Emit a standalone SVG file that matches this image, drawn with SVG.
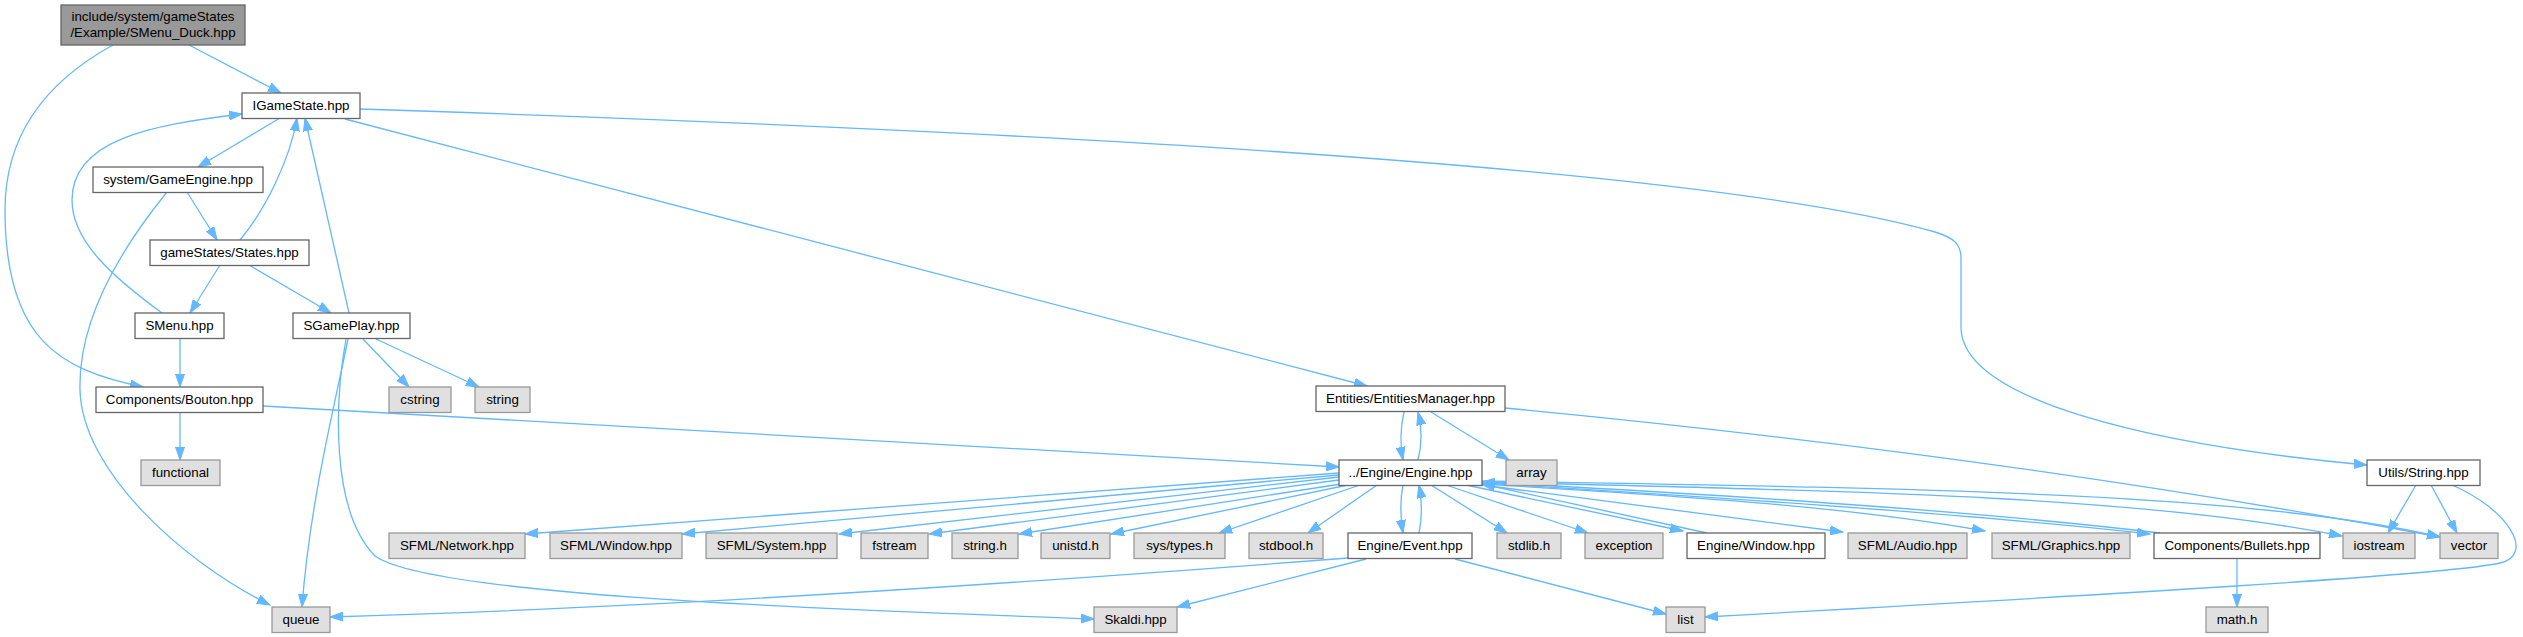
<svg xmlns="http://www.w3.org/2000/svg" width="2523" height="637" viewBox="0 0 2523 637">
<style>
.w{fill:#ffffff;stroke:#666666;stroke-width:1.3}
.g{fill:#e0e0e0;stroke:#999999;stroke-width:1.3}
.r{fill:#999999;stroke:#666666;stroke-width:1.3}
text{font-family:"Liberation Sans",Arial,Helvetica,sans-serif;font-size:13.33px;text-anchor:middle;fill:#000000}
#edges path{fill:none;stroke:#63b8ff;stroke-width:1.3;marker-end:url(#a)}
</style>
<defs>
<marker id="a" markerUnits="userSpaceOnUse" markerWidth="14" markerHeight="10" refX="13" refY="5" orient="auto">
<path d="M0,0.5 L13,5 L0,9.5 z" fill="#63b8ff" stroke="#63b8ff" stroke-width="1"/>
</marker>
</defs>
<rect width="2523" height="637" fill="#ffffff"/>
<g id="edges">
<path d="M189,45 L281,93"/>
<path d="M113,45 C40,85 5,140 5,210 C5,340 60,370 143,387"/>
<path d="M280,118 L198,167"/>
<path d="M345,119 L1367,386"/>
<path d="M360,109 C1000,130 1700,165 1935,232 C1955,238 1961,245 1961,258 L1961,327 C1961,400 2150,445 2367,465"/>
<path d="M187,192 L217,240"/>
<path d="M167,192 C120,250 78,320 80,390 C82,470 180,560 270,605"/>
<path d="M240,240 C265,210 290,160 297,118"/>
<path d="M220,265 L190,313"/>
<path d="M249,265 L331,313"/>
<path d="M162,313 C110,275 72,240 72,200 C72,140 150,125 242,114"/>
<path d="M180,339 L180,387"/>
<path d="M349,313 L305,118"/>
<path d="M363,339 L409,387"/>
<path d="M376,339 L479,387"/>
<path d="M348,339 C336,400 310,500 302,607"/>
<path d="M346,339 C335,400 330,510 375,556 C430,595 800,608 1094,619"/>
<path d="M180,412 L180,460"/>
<path d="M263,406 L1339,467"/>
<path d="M1404,412 C1400,430 1400,445 1403,460"/>
<path d="M1418,460 C1422,445 1422,428 1418,412"/>
<path d="M1431,412 L1509,460"/>
<path d="M1505,408 Q2000,455 2440,537"/>
<path d="M1339,473 L525,534"/>
<path d="M1339,475 L682,534"/>
<path d="M1339,477 L839,534"/>
<path d="M1339,480 L929,534"/>
<path d="M1341,484 L1019,534"/>
<path d="M1348,485 L1111,534"/>
<path d="M1360,485 L1219,533"/>
<path d="M1377,485 L1308,533"/>
<path d="M1403,485 C1400,500 1400,515 1403,533"/>
<path d="M1419,533 C1422,518 1422,500 1419,485"/>
<path d="M1431,485 L1507,533"/>
<path d="M1446,485 L1588,533"/>
<path d="M1466,485 L1683,531"/>
<path d="M1707,533 L1482,484"/>
<path d="M1482,485 L1843,532"/>
<path d="M1482,484 C1700,497 1850,507 1985,531"/>
<path d="M1482,483 C1800,502 2000,517 2150,534"/>
<path d="M2160,533 C2000,514 1800,499 1482,482"/>
<path d="M1482,482 C1900,492 2150,498 2342,536"/>
<path d="M1482,481 C1900,488 2250,492 2440,537"/>
<path d="M1348,558 C1000,585 650,608 330,617"/>
<path d="M1366,559 L1177,607"/>
<path d="M1455,559 L1666,614"/>
<path d="M2416,485 L2388,533"/>
<path d="M2431,485 L2457,533"/>
<path d="M2452,485 C2510,510 2535,555 2500,563 C2450,575 2100,595 1705,617"/>
<path d="M2237,559 L2237,607"/>
</g>
<g id="n_root"><rect class="r" x="61" y="5" width="184" height="40"/><text x="153" y="21">include/system/gameStates</text><text x="153" y="37">/Example/SMenu_Duck.hpp</text></g>
<g id="n_igamestate"><rect class="w" x="242" y="93" width="118" height="25.5"/><text x="301" y="110">IGameState.hpp</text></g>
<g id="n_gameengine"><rect class="w" x="93" y="167" width="170" height="25.5"/><text x="178" y="184">system/GameEngine.hpp</text></g>
<g id="n_states"><rect class="w" x="150" y="240" width="159" height="25.5"/><text x="229.5" y="257">gameStates/States.hpp</text></g>
<g id="n_smenu"><rect class="w" x="135" y="313" width="89" height="25.5"/><text x="179.5" y="330">SMenu.hpp</text></g>
<g id="n_sgameplay"><rect class="w" x="293" y="313" width="117" height="25.5"/><text x="351.5" y="330">SGamePlay.hpp</text></g>
<g id="n_bouton"><rect class="w" x="96" y="387" width="167" height="25.5"/><text x="179.5" y="404">Components/Bouton.hpp</text></g>
<g id="n_cstring"><rect class="g" x="389" y="387" width="62" height="25.5"/><text x="420" y="404">cstring</text></g>
<g id="n_string"><rect class="g" x="475" y="387" width="55" height="25.5"/><text x="502.5" y="404">string</text></g>
<g id="n_em"><rect class="w" x="1316" y="386" width="189" height="25.5"/><text x="1410.5" y="403">Entities/EntitiesManager.hpp</text></g>
<g id="n_functional"><rect class="g" x="141" y="460" width="79" height="25.5"/><text x="180.5" y="477">functional</text></g>
<g id="n_engine"><rect class="w" x="1339" y="460" width="143" height="25.5"/><text x="1410.5" y="477">../Engine/Engine.hpp</text></g>
<g id="n_array"><rect class="g" x="1506" y="460" width="51" height="25.5"/><text x="1531.5" y="477">array</text></g>
<g id="n_utils"><rect class="w" x="2367" y="460" width="113" height="25.5"/><text x="2423.5" y="477">Utils/String.hpp</text></g>
<g id="n_network"><rect class="g" x="389" y="533" width="136" height="25.5"/><text x="457" y="550">SFML/Network.hpp</text></g>
<g id="n_sfwindow"><rect class="g" x="550" y="533" width="132" height="25.5"/><text x="616" y="550">SFML/Window.hpp</text></g>
<g id="n_system"><rect class="g" x="706" y="533" width="131" height="25.5"/><text x="771.5" y="550">SFML/System.hpp</text></g>
<g id="n_fstream"><rect class="g" x="861" y="533" width="67" height="25.5"/><text x="894.5" y="550">fstream</text></g>
<g id="n_stringh"><rect class="g" x="952" y="533" width="66" height="25.5"/><text x="985" y="550">string.h</text></g>
<g id="n_unistd"><rect class="g" x="1041" y="533" width="69" height="25.5"/><text x="1075.5" y="550">unistd.h</text></g>
<g id="n_systypes"><rect class="g" x="1134" y="533" width="91" height="25.5"/><text x="1179.5" y="550">sys/types.h</text></g>
<g id="n_stdbool"><rect class="g" x="1249" y="533" width="74" height="25.5"/><text x="1286" y="550">stdbool.h</text></g>
<g id="n_event"><rect class="w" x="1348" y="533" width="124" height="25.5"/><text x="1410" y="550">Engine/Event.hpp</text></g>
<g id="n_stdlib"><rect class="g" x="1497" y="533" width="64" height="25.5"/><text x="1529" y="550">stdlib.h</text></g>
<g id="n_exception"><rect class="g" x="1585" y="533" width="78" height="25.5"/><text x="1624" y="550">exception</text></g>
<g id="n_ewindow"><rect class="w" x="1687" y="533" width="138" height="25.5"/><text x="1756" y="550">Engine/Window.hpp</text></g>
<g id="n_audio"><rect class="g" x="1848" y="533" width="119" height="25.5"/><text x="1907.5" y="550">SFML/Audio.hpp</text></g>
<g id="n_graphics"><rect class="g" x="1992" y="533" width="138" height="25.5"/><text x="2061" y="550">SFML/Graphics.hpp</text></g>
<g id="n_bullets"><rect class="w" x="2154" y="533" width="166" height="25.5"/><text x="2237" y="550">Components/Bullets.hpp</text></g>
<g id="n_iostream"><rect class="g" x="2343" y="533" width="72" height="25.5"/><text x="2379" y="550">iostream</text></g>
<g id="n_vector"><rect class="g" x="2440" y="533" width="58" height="25.5"/><text x="2469" y="550">vector</text></g>
<g id="n_queue"><rect class="g" x="272" y="607" width="58" height="25.5"/><text x="301" y="624">queue</text></g>
<g id="n_skaldi"><rect class="g" x="1094" y="607" width="83" height="25.5"/><text x="1135.5" y="624">Skaldi.hpp</text></g>
<g id="n_list"><rect class="g" x="1666" y="607" width="39" height="25.5"/><text x="1685.5" y="624">list</text></g>
<g id="n_math"><rect class="g" x="2206" y="607" width="62" height="25.5"/><text x="2237" y="624">math.h</text></g>
</svg>
